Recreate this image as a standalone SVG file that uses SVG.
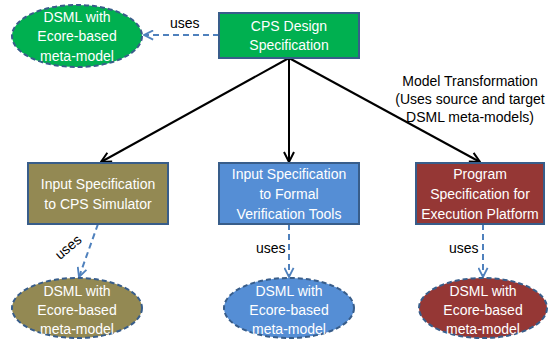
<svg xmlns="http://www.w3.org/2000/svg" width="549" height="340" viewBox="0 0 549 340">
  <defs>
    <marker id="arrBlack" viewBox="0 0 12 12" refX="11" refY="6" markerWidth="12" markerHeight="12" markerUnits="userSpaceOnUse" orient="auto">
      <polyline points="1,1 11,6 1,11" fill="none" stroke="#000" stroke-width="2"/>
    </marker>
    <marker id="arrBlue" viewBox="0 0 12 12" refX="11" refY="6" markerWidth="11" markerHeight="11" markerUnits="userSpaceOnUse" orient="auto">
      <polyline points="1,1 11,6 1,11" fill="none" stroke="#4f81bd" stroke-width="2"/>
    </marker>
    <style>
      .box { stroke: #385d8a; stroke-width: 2; }
      .dsml { stroke: #385d8a; stroke-width: 2; stroke-dasharray: 5 3; }
      .green { fill: #00b050; }
      .olive { fill: #938953; }
      .blue { fill: #558ed5; }
      .red { fill: #953735; }
      text { font-family: "Liberation Sans", Arial, sans-serif; font-size: 14px; }
      .w { fill: #ffffff; text-anchor: middle; }
      .k { fill: #000000; }
      .flow { stroke: #000; stroke-width: 2; fill: none; marker-end: url(#arrBlack); }
      .use { stroke: #4f81bd; stroke-width: 2; stroke-dasharray: 6 4; fill: none; marker-end: url(#arrBlue); }
    </style>
  </defs>

  <g id="connectors">
    <line class="flow" x1="289" y1="58" x2="101" y2="162"/>
    <line class="flow" x1="289" y1="58" x2="289" y2="162"/>
    <line class="flow" x1="289" y1="58" x2="480" y2="162"/>
    <line class="use" x1="219" y1="35" x2="144" y2="35"/>
    <line class="use" x1="98" y1="224" x2="79" y2="277"/>
    <line class="use" x1="289" y1="224" x2="289" y2="277"/>
    <line class="use" x1="483" y1="224" x2="483" y2="277"/>
    <text class="k" x="170" y="28">uses</text>
    <text class="k" x="68" y="252" text-anchor="middle" transform="rotate(-40 68 247)">uses</text>
    <text class="k" x="256" y="253">uses</text>
    <text class="k" x="449" y="253">uses</text>
    <text class="k" x="470" y="86" text-anchor="middle">Model Transformation</text>
    <text class="k" x="470" y="104" text-anchor="middle">(Uses source and target</text>
    <text class="k" x="470" y="122" text-anchor="middle">DSML meta-models)</text>
  </g>

  <g id="cps-design">
    <rect class="box green" x="219" y="13" width="140" height="45"/>
    <text class="w" x="289" y="31">CPS Design</text>
    <text class="w" x="289" y="50">Specification</text>
  </g>

  <g id="dsml-top">
    <ellipse class="dsml green" cx="77" cy="36" rx="65" ry="31"/>
    <text class="w" x="77" y="22">DSML with</text>
    <text class="w" x="77" y="41">Ecore-based</text>
    <text class="w" x="77" y="61">meta-model</text>
  </g>

  <g id="cps-simulator">
    <rect class="box olive" x="28" y="163" width="140" height="61"/>
    <text class="w" x="98" y="189">Input Specification</text>
    <text class="w" x="98" y="209">to CPS Simulator</text>
  </g>

  <g id="formal-verification">
    <rect class="box blue" x="219" y="163" width="140" height="61"/>
    <text class="w" x="289" y="179">Input Specification</text>
    <text class="w" x="289" y="199">to  Formal</text>
    <text class="w" x="289" y="219">Verification Tools</text>
  </g>

  <g id="execution-platform">
    <rect class="box red" x="416" y="163" width="128" height="61"/>
    <text class="w" x="480" y="179">Program</text>
    <text class="w" x="480" y="199">Specification for</text>
    <text class="w" x="480" y="219">Execution Platform</text>
  </g>

  <g id="dsml-simulator">
    <ellipse class="dsml olive" cx="77" cy="308" rx="65" ry="30"/>
    <text class="w" x="77" y="296">DSML with</text>
    <text class="w" x="77" y="315">Ecore-based</text>
    <text class="w" x="77" y="334">meta-model</text>
  </g>

  <g id="dsml-verification">
    <ellipse class="dsml blue" cx="289" cy="308" rx="65" ry="30"/>
    <text class="w" x="289" y="296">DSML with</text>
    <text class="w" x="289" y="315">Ecore-based</text>
    <text class="w" x="289" y="334">meta-model</text>
  </g>

  <g id="dsml-execution">
    <ellipse class="dsml red" cx="483" cy="308" rx="64" ry="30"/>
    <text class="w" x="483" y="296">DSML with</text>
    <text class="w" x="483" y="315">Ecore-based</text>
    <text class="w" x="483" y="334">meta-model</text>
  </g>
</svg>
